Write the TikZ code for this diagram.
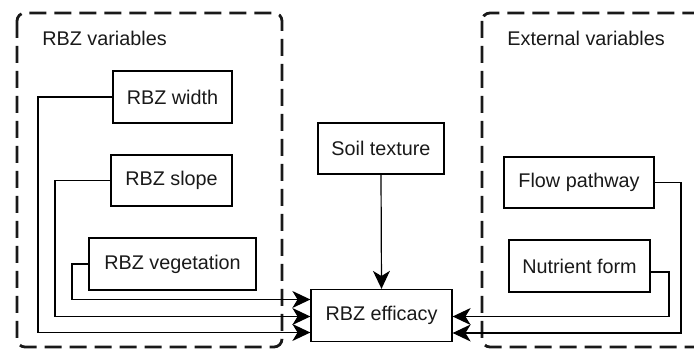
\documentclass[tikz,border=0pt]{standalone}
\usepackage{fontspec}
\setmainfont{Liberation Sans}
\usetikzlibrary{arrows.meta}

\begin{document}
\begin{tikzpicture}[x=0.5pt,y=-0.5pt,
  font=\fontsize{9.9}{12}\selectfont,
  varbox/.style={draw=black,line width=0.65pt,inner sep=0pt,align=center,text=black!90},
  group/.style={draw=black!90,line width=1.4pt,dash pattern=on 8.5pt off 4pt,rounded corners=4pt},
  link/.style={draw=black,line width=0.6pt},
  arr/.style={link,-{Stealth[length=9pt,width=8.5pt,inset=2.6pt]}},
  grouplabel/.style={anchor=west,inner sep=0pt,text=black!90}]

\useasboundingbox (0,0) rectangle (694,351);

% dashed groups
\begin{scope}
  \clip (0,0) rectangle (694,351);
  \draw[group] (17,13) rectangle (282,347);
  \draw[group] (482,13) rectangle (716,347);
\end{scope}
\node[grouplabel] (lblrbz) at (42,38) {RBZ variables};
\node[grouplabel] (lblext) at (507,38) {External variables};

% variable boxes
\node[varbox,minimum width=59.5pt,minimum height=26pt] (width) at (172.5,97) {RBZ width};
\node[varbox,minimum width=60.5pt,minimum height=25.5pt] (slope) at (171.5,180.5) {RBZ slope};
\node[varbox,minimum width=83.5pt,minimum height=26pt] (veg) at (172.5,264) {RBZ vegetation};
\node[varbox,minimum width=63pt,minimum height=25.5pt] (soil) at (381,148.5) {Soil texture};
\node[varbox,minimum width=70.5pt,minimum height=26pt] (eff) at (381.5,315.5) {RBZ efficacy};
\node[varbox,minimum width=75pt,minimum height=25.5pt] (flow) at (579,182.5) {Flow pathway};
\node[varbox,minimum width=70.5pt,minimum height=26pt] (nutr) at (579.5,266) {Nutrient form};

% entry points on RBZ efficacy
\coordinate (inveg) at ([yshift=8pt]eff.west);
\coordinate (inslope) at ([yshift=-0.5pt]eff.west);
\coordinate (inwidth) at ([yshift=-8.5pt]eff.west);
\coordinate (innutr) at ([yshift=-0.5pt]eff.east);
\coordinate (inflow) at ([yshift=-8.75pt]eff.east);
\coordinate (outnutr) at ([yshift=-3pt]nutr.east);

% routing columns
\coordinate (cw) at (38,0);
\coordinate (cs) at (55,0);
\coordinate (cv) at (72,0);
\coordinate (cf) at (681,0);
\coordinate (cn) at (669,0);

% connectors into RBZ efficacy
\draw[arr] (soil.south) -- (eff.north);
\draw[arr] (veg.west) -| (cv |- inveg) -- (inveg);
\draw[arr] (slope.west) -| (cs |- inslope) -- (inslope);
\draw[arr] (width.west) -| (cw |- inwidth) -- (inwidth);
\draw[arr] (outnutr) -| (cn |- innutr) -- (innutr);
\draw[arr] (flow.east) -| (cf |- inflow) -- (inflow);

\end{tikzpicture}
\end{document}
